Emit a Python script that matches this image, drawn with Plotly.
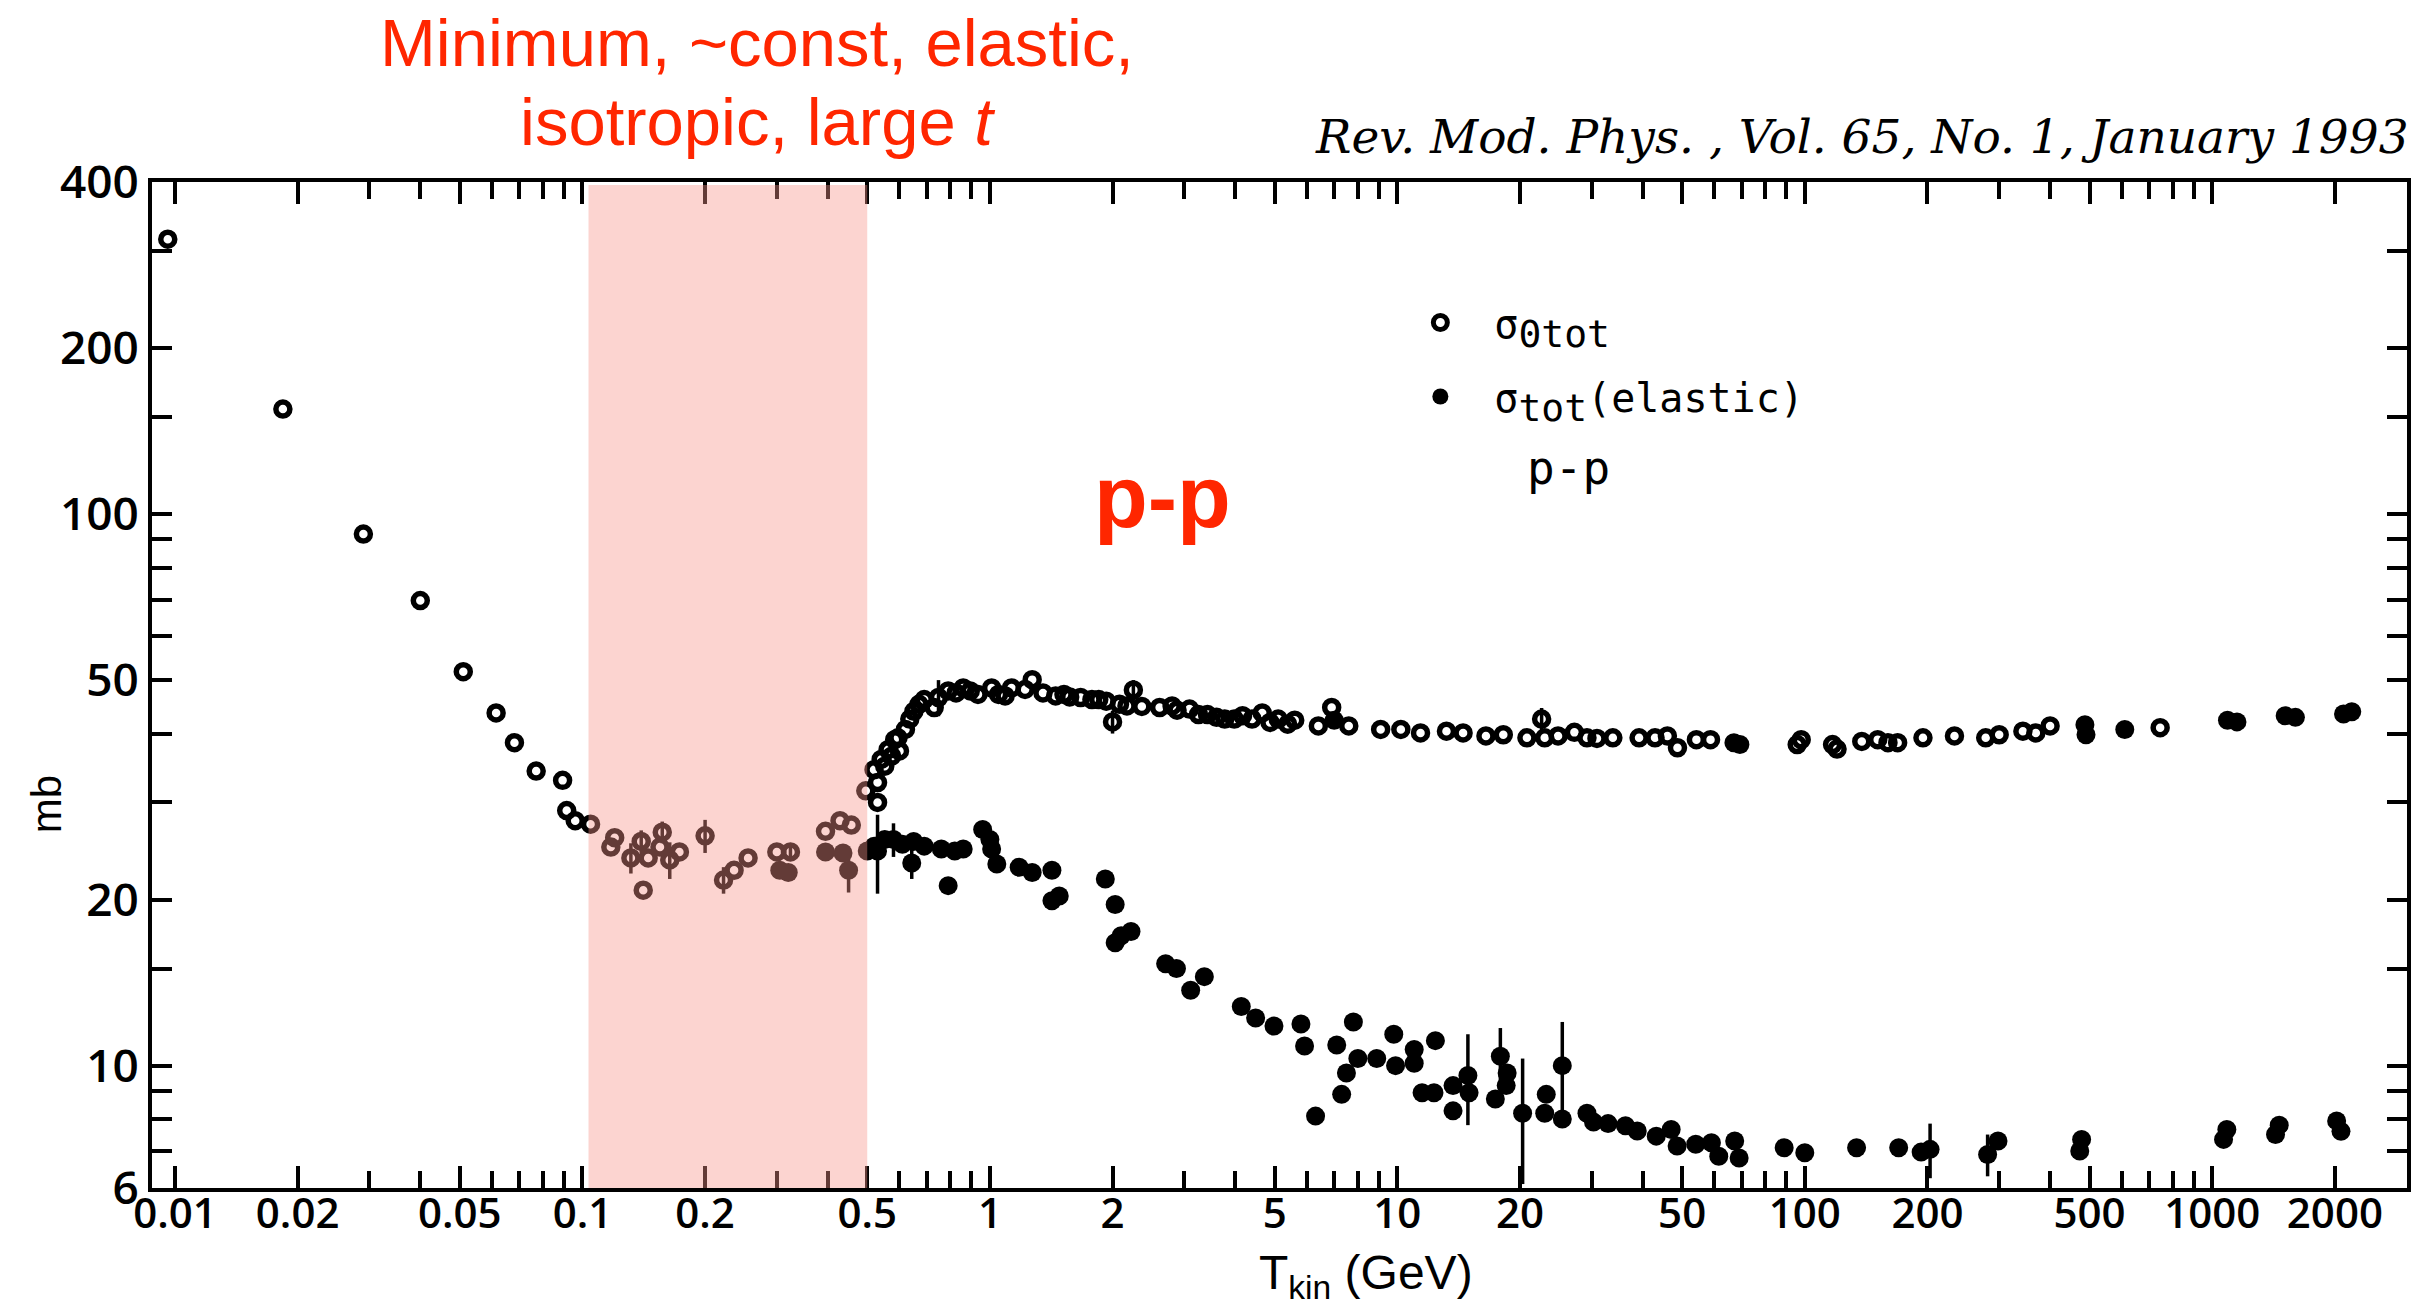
import plotly.graph_objects as go

# ---------------- data ----------------
# open circles: sigma_0tot  (T_kin in GeV, sigma in mb, error in mb)
open_T = [0.0096, 0.0184, 0.029, 0.040, 0.051, 0.0614, 0.0681, 0.077, 0.0894, 0.0915, 0.096, 0.1047,
          0.1174, 0.120, 0.1315, 0.1394, 0.141, 0.145, 0.155, 0.157, 0.1638, 0.173, 0.200, 0.222,
          0.2356, 0.255, 0.300, 0.324, 0.395, 0.4287, 0.457, 0.496,
          0.5196, 0.530, 0.530, 0.541, 0.552, 0.5625, 0.574, 0.584, 0.595, 0.600, 0.6205, 0.636,
          0.651, 0.67, 0.69, 0.73, 0.748, 0.79, 0.826, 0.86, 0.895, 0.935, 1.01, 1.05, 1.09, 1.13,
          1.22, 1.27, 1.35, 1.45, 1.52, 1.57, 1.67, 1.78, 1.85, 1.93, 2.0, 2.08, 2.17, 2.25, 2.36,
          2.61, 2.8, 2.88, 3.09, 3.25, 3.42, 3.6, 3.77, 3.98, 4.17, 4.4, 4.66, 4.87, 5.1, 5.38, 5.6,
          6.4, 6.9, 7.6, 9.1, 10.2, 11.4, 13.2, 14.5, 16.5, 18.2, 20.8, 22.6, 23.0, 24.8, 27.2,
          29.2, 30.9, 33.8, 39.2, 42.9, 46.0, 48.7, 54.2, 58.7, 95.8, 98.0, 117, 120, 138, 151,
          160, 169, 195, 233, 278, 300, 343, 369, 400, 745]
open_sig = [315, 155, 92, 69.7, 51.8, 43.6, 38.5, 34.2, 32.9, 29.0, 27.8, 27.4,
            24.9, 25.9, 23.8, 25.5, 20.8, 23.8, 24.9, 26.5, 23.6, 24.4, 26.1, 21.7,
            22.6, 23.8, 24.4, 24.4, 26.6, 27.8, 27.3, 31.5,
            34.4, 32.6, 30.0, 35.9, 34.9, 37.4, 36.4, 39.0, 39.3, 37.2, 40.7, 42.5,
            43.9, 45.2, 46.1, 44.6, 46.5, 47.8, 47.4, 48.4, 47.8, 47.1, 48.4, 47.1, 46.8, 48.4,
            48.1, 50.1, 47.4, 46.8, 47.1, 46.6, 46.5, 46.1, 46.1, 45.8, 42.0, 45.2, 44.9, 48.0, 44.8,
            44.6, 44.9, 44.1, 44.3, 43.3, 43.3, 42.8, 42.5, 42.5, 43.1, 42.5, 43.6, 41.9, 42.5, 41.6, 42.3,
            41.3, 44.6, 41.3, 40.7, 40.7, 40.1, 40.4, 40.1, 39.6, 39.8, 39.3, 42.5, 39.3, 39.6, 40.2,
            39.3, 39.2, 39.3, 39.3, 39.3, 39.6, 37.7, 39.0, 39.0, 38.2, 39.0, 38.2, 37.5, 38.7, 39.0,
            38.5, 38.5, 39.3, 39.6, 39.3, 39.8, 40.4, 40.1, 41.3, 41.0]
open_err = [0, 0, 0, 0, 0, 0, 0, 0, 0, 0, 0, 0,
            0, 0, 1.5, 1.2, 0, 0, 0, 1.2, 1.8, 0, 1.8, 1.2,
            0, 0, 0, 0.8, 0, 0, 0, 0,
            0, 0, 0, 0, 0, 0, 0, 0, 0, 0, 0, 0,
            0, 0, 0, 0, 3.5, 0, 0, 0, 0, 0, 0, 0, 0, 0,
            0, 0, 0, 0, 0, 0, 0, 0, 0, 0, 2.0, 0, 0, 2.0, 0,
            0, 0, 0, 0, 0, 0, 0, 0, 0, 0, 0, 0, 0, 0, 0, 0,
            0, 0, 0, 0, 0, 0, 0, 0, 0, 0, 0, 2.0, 0, 0, 0,
            0, 0, 0, 0, 0, 0, 0, 0, 0, 0, 0, 0, 0, 0, 0,
            0, 0, 0, 0, 0, 0, 0, 0, 0, 0]

# filled circles: sigma_tot (elastic)
fill_T = [0.305, 0.32, 0.395, 0.436, 0.45, 0.5,
          0.52, 0.53, 0.552, 0.58, 0.61, 0.65, 0.643, 0.69, 0.76, 0.79, 0.82, 0.86, 0.96, 1.0,
          1.01, 1.04, 1.18, 1.27, 1.42, 1.48, 1.42, 1.92, 2.03, 2.22, 2.03, 2.1, 2.7, 2.87, 3.36,
          3.11, 4.14, 4.49, 4.98, 5.8, 5.92, 6.3, 7.1, 7.8, 7.3, 7.5, 8.0, 8.9, 9.8, 9.9, 11.0,
          11.0, 12.4, 11.5, 12.3, 13.7, 13.7, 14.9, 15.0, 17.9, 18.6, 17.4, 18.5, 20.3, 25.4, 23.2,
          23.0, 25.4, 29.2, 30.3, 32.9, 36.3, 38.8, 43.2, 47.0, 48.6, 54.0, 59.0, 61.5, 67.3, 69.0,
          89.0, 100, 134, 170, 193, 203, 281, 298, 473, 478, 1066, 1086, 1430, 1460, 2020, 2070,
          7.0, 67.0, 69.3, 487, 490, 610, 1090, 1150, 1510, 1600, 2100, 2200]
fill_sig = [22.6, 22.4, 24.4, 24.3, 22.6, 24.5,
            25.0, 24.5, 25.7, 25.7, 25.2, 25.5, 23.3, 25.0, 24.7, 21.2, 24.5, 24.7, 26.8, 25.7,
            24.7, 23.2, 22.9, 22.4, 22.6, 20.3, 19.9, 21.8, 19.6, 17.5, 16.7, 17.2, 15.3, 15.0, 14.5,
            13.7, 12.8, 12.2, 11.8, 11.9, 10.85, 8.1, 10.9, 12.0, 8.87, 9.7, 10.3, 10.3, 11.4, 10.0, 10.1,
            10.7, 11.1, 8.93, 8.93, 8.28, 9.2, 9.6, 8.93, 10.4, 9.7, 8.7, 9.2, 8.2, 10.0, 8.87,
            8.2, 8.0, 8.2, 7.9, 7.85, 7.78, 7.61, 7.45, 7.66, 7.15, 7.2, 7.25, 6.85, 7.3, 6.8,
            7.1, 6.95, 7.1, 7.1, 6.97, 7.05, 6.9, 7.3, 7.0, 7.35, 7.35, 7.66, 7.5, 7.8, 7.94, 7.6,
            42.3, 38.5, 38.2, 41.5, 39.8, 40.7, 42.3, 42.0, 43.1, 42.8, 43.4, 43.8]
fill_err = [0, 0.6, 0, 0, 2.0, 0,
            0, 4.0, 0, 1.8, 0, 0, 1.5, 0, 0, 0, 0, 0, 0, 0,
            0, 0, 0, 0, 0, 0, 0, 0, 0, 0, 0, 0, 0, 0, 0,
            0, 0, 0, 0, 0, 0, 0, 0, 0, 0, 0, 0, 0, 0, 0, 0,
            0, 0, 0, 0, 0, 0, 1.8, 0, 1.3, 0, 0, 0, 2.1, 2.0, 0,
            0, 0, 0, 0, 0, 0, 0, 0, 0, 0, 0, 0, 0, 0, 0,
            0, 0, 0, 0, 0, 0.8, 0.6, 0, 0, 0, 0, 0, 0, 0, 0, 0,
            0, 0, 0, 0, 0, 0, 0, 0, 0, 0, 0, 0]

x_major = [0.01, 0.02, 0.05, 0.1, 0.2, 0.5, 1, 2, 5, 10, 20, 50, 100, 200, 500, 1000, 2000]
x_labels = ["0.01", "0.02", "0.05", "0.1", "0.2", "0.5", "1", "2", "5", "10", "20", "50",
            "100", "200", "500", "1000", "2000"]
x_minor = [0.03, 0.04, 0.06, 0.07, 0.08, 0.09, 0.3, 0.4, 0.6, 0.7, 0.8, 0.9,
           3, 4, 6, 7, 8, 9, 30, 40, 60, 70, 80, 90, 300, 400, 600, 700, 800, 900]
x_half = [0.015, 0.15, 1.5, 15, 150, 1500]
y_major = [6, 10, 20, 50, 100, 200, 400]
y_labels = ["6", "10", "20", "50", "100", "200", "400"]
y_minor = [7, 8, 9, 15, 30, 40, 60, 70, 80, 90, 150, 300]
band_T = [0.1035, 0.5]

# ---------------- layout geometry ----------------
W, H = 2423, 1306
L, R, T, B = 152, 2410, 182, 1188
X_RANGE = [-2.0564, 3.478]
Y_RANGE = [0.77815, 2.60206]


def px(X):
    return (X - L) / (R - L)


def py(Y):
    return (B - Y) / (B - T)


SANS = "Liberation Sans, Arial, sans-serif"
TICKF = "Open Sans, Liberation Sans, sans-serif"
MONO = "DejaVu Sans Mono, monospace"
RED = "#FF2600"

fig = go.Figure()
fig.add_trace(go.Scatter(
    x=open_T, y=open_sig, mode="markers",
    name="σ<sub><span style=\"font-size:38px\">0tot</span></sub>",
    marker=dict(symbol="circle-open", size=14, color="black", line=dict(width=5.5, color="black")),
    error_y=dict(type="data", array=open_err, visible=True, width=0, thickness=3.5, color="black"),
    legendgroup="a"))
fig.add_trace(go.Scatter(
    x=fill_T, y=fill_sig, mode="markers",
    name="σ<sub><span style=\"font-size:38px\">tot</span></sub>(elastic)",
    marker=dict(symbol="circle", size=19, color="black", line=dict(width=0)),
    error_y=dict(type="data", array=fill_err, visible=True, width=0, thickness=3.5, color="black"),
    legendgroup="b"))

fig.add_shape(type="rect", xref="x", yref="paper", x0=band_T[0], x1=band_T[1], y0=0, y1=0.997,
              fillcolor="rgba(247,148,138,0.40)", line=dict(width=0), layer="above")

axis_common = dict(showline=True, linewidth=4, linecolor="black", mirror="ticks",
                   showgrid=False, zeroline=False, ticks="inside", tickcolor="black")

fig.update_layout(
    width=W, height=H,
    margin=dict(l=L, r=W - R, t=T, b=H - B),
    paper_bgcolor="white", plot_bgcolor="white",
    font=dict(family=SANS, color="black"),
    xaxis=dict(type="log", range=X_RANGE, tickmode="array", tickvals=x_major, ticktext=x_labels,
               ticklen=22, tickwidth=4, ticklabelstandoff=-14,
               tickfont=dict(size=42, family=TICKF, weight=600),
               minor=dict(tickmode="array", tickvals=x_minor, ticks="inside", ticklen=17,
                          tickwidth=3.5, tickcolor="black", showgrid=False),
               **axis_common),
    xaxis2=dict(type="log", range=X_RANGE, overlaying="x", anchor="y", side="bottom",
                tickmode="array", tickvals=x_half, ticks="inside", ticklen=10, tickwidth=3.5,
                tickcolor="black", showticklabels=False, showline=False, mirror="ticks",
                showgrid=False, zeroline=False),
    yaxis=dict(type="log", range=Y_RANGE, tickmode="array", tickvals=y_major, ticktext=y_labels,
               ticklen=20, tickwidth=4, tickfont=dict(size=46, family=TICKF, weight=600),
               minor=dict(tickmode="array", tickvals=y_minor, ticks="inside", ticklen=20,
                          tickwidth=3.5, tickcolor="black", showgrid=False),
               **axis_common),
    showlegend=True,
    legend=dict(x=px(1388), y=py(290), xanchor="left", yanchor="top",
                bgcolor="rgba(0,0,0,0)", borderwidth=0, traceorder="grouped",
                tracegroupgap=19, itemwidth=98,
                font=dict(size=40, family=MONO, color="black")),
)

annotations = [
    dict(text="Minimum, ~const, elastic,", x=px(758), y=py(42), xref="paper", yref="paper",
         xanchor="center", yanchor="middle", showarrow=False,
         font=dict(size=67, color=RED, family=SANS)),
    dict(text="isotropic, large <i>t</i>", x=px(758), y=py(122), xref="paper", yref="paper",
         xanchor="center", yanchor="middle", showarrow=False,
         font=dict(size=67, color=RED, family=SANS)),
    dict(text="<i>Rev. Mod. Phys. , Vol. 65, No. 1, January 1993</i>", x=px(2414), y=py(137),
         xref="paper", yref="paper", xanchor="right", yanchor="middle", showarrow=False,
         font=dict(size=47, color="black", family="DejaVu Serif, serif")),
    dict(text="<b>p-p</b>", x=px(1164), y=py(496), xref="paper", yref="paper",
         xanchor="center", yanchor="middle", showarrow=False,
         font=dict(size=88, color=RED, family=SANS)),
    dict(text="p-p", x=px(1570), y=py(468), xref="paper", yref="paper",
         xanchor="center", yanchor="middle", showarrow=False,
         font=dict(size=46, color="black", family=MONO)),
    dict(text="mb", x=px(46), y=py(804), xref="paper", yref="paper", textangle=-90,
         xanchor="center", yanchor="middle", showarrow=False,
         font=dict(size=42, color="black", family=SANS)),
    dict(text="T<sub>kin</sub> (GeV)", x=px(1368), y=py(1276), xref="paper", yref="paper",
         xanchor="center", yanchor="middle", showarrow=False,
         font=dict(size=48, color="black", family=SANS)),
]
fig.update_layout(annotations=annotations)

fig.write_html("out.html")
